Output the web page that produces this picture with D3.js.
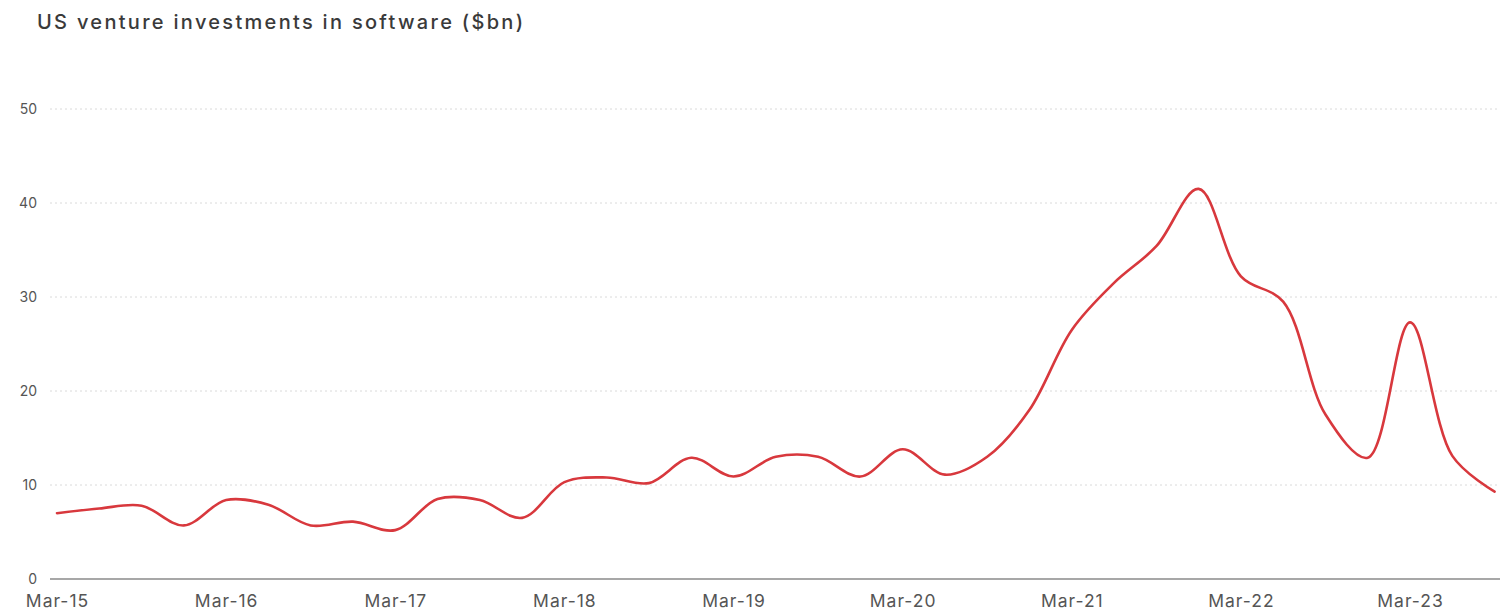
<!DOCTYPE html>
<html><head><meta charset="utf-8">
<script src="https://cdn.jsdelivr.net/npm/d3@7"></script>
<style>body{margin:0;background:#fff;font-family:Inter,"Noto Sans",sans-serif}</style>
</head><body><svg id="c" width="1512" height="615"></svg>
<script>
const title = "US venture investments in software ($bn)";
const quarters = ["Mar-15","Jun-15","Sep-15","Dec-15","Mar-16","Jun-16","Sep-16","Dec-16","Mar-17","Jun-17","Sep-17","Dec-17","Mar-18","Jun-18","Sep-18","Dec-18","Mar-19","Jun-19","Sep-19","Dec-19","Mar-20","Jun-20","Sep-20","Dec-20","Mar-21","Jun-21","Sep-21","Dec-21","Mar-22","Jun-22","Sep-22","Dec-22","Mar-23","Jun-23","Sep-23"];
const values = [7.0,7.5,7.8,5.7,8.4,7.9,5.7,6.1,5.2,8.5,8.4,6.5,10.3,10.8,10.2,12.9,10.9,13.0,13.0,10.9,13.8,11.1,13.0,18.0,26.5,31.5,35.4,41.5,32.2,29.5,17.5,12.9,27.3,13.1,9.3];
const xTickLabels = ["Mar-15","Mar-16","Mar-17","Mar-18","Mar-19","Mar-20","Mar-21","Mar-22","Mar-23"];
const yTicks = [0,10,20,30,40,50];

const svg = d3.select("#c");
const x = d3.scalePoint().domain(quarters).range([57, 1494.6]);
const y = d3.scaleLinear().domain([0,50]).range([579,109]);

svg.append("text").attr("x",37).attr("y",29).attr("font-size",20).attr("letter-spacing",2.3)
  .attr("font-weight",500).attr("fill","#3a3a3a").text(title);

// gridlines
svg.append("g").selectAll("line").data(yTicks.filter(d=>d>0)).join("line")
  .attr("x1",50).attr("x2",1500).attr("y1",d=>y(d)).attr("y2",d=>y(d))
  .attr("stroke","#dadada").attr("stroke-width",1).attr("stroke-dasharray","2,3");

// y labels
svg.append("g").selectAll("text").data(yTicks).join("text")
  .attr("x",37).attr("y",d=>y(d)).attr("dy","0.36em").attr("text-anchor","end")
  .attr("font-size",14).attr("fill","#555").text(d=>d);

// x axis
const xAxis = d3.axisBottom(x).tickValues(xTickLabels).tickSize(0).tickPadding(16);
const gx = svg.append("g").attr("transform",`translate(0,${y(0)})`).call(xAxis);
gx.select(".domain").attr("d","M50,0H1500").attr("stroke","#8a8a8a").attr("stroke-width",1.3);
gx.selectAll("text").attr("font-size",17.5).attr("letter-spacing",1).attr("fill","#555")
  .attr("font-family","Inter,'Noto Sans',sans-serif");

// line
const line = d3.line().x((d,i)=>x(quarters[i])).y(d=>y(d)).curve(d3.curveCatmullRom.alpha(0.5));
svg.append("path").datum(values).attr("d",line).attr("fill","none")
  .attr("stroke","#d8383d").attr("stroke-width",2.6).attr("stroke-linejoin","round").attr("stroke-linecap","round");
</script></body></html>
